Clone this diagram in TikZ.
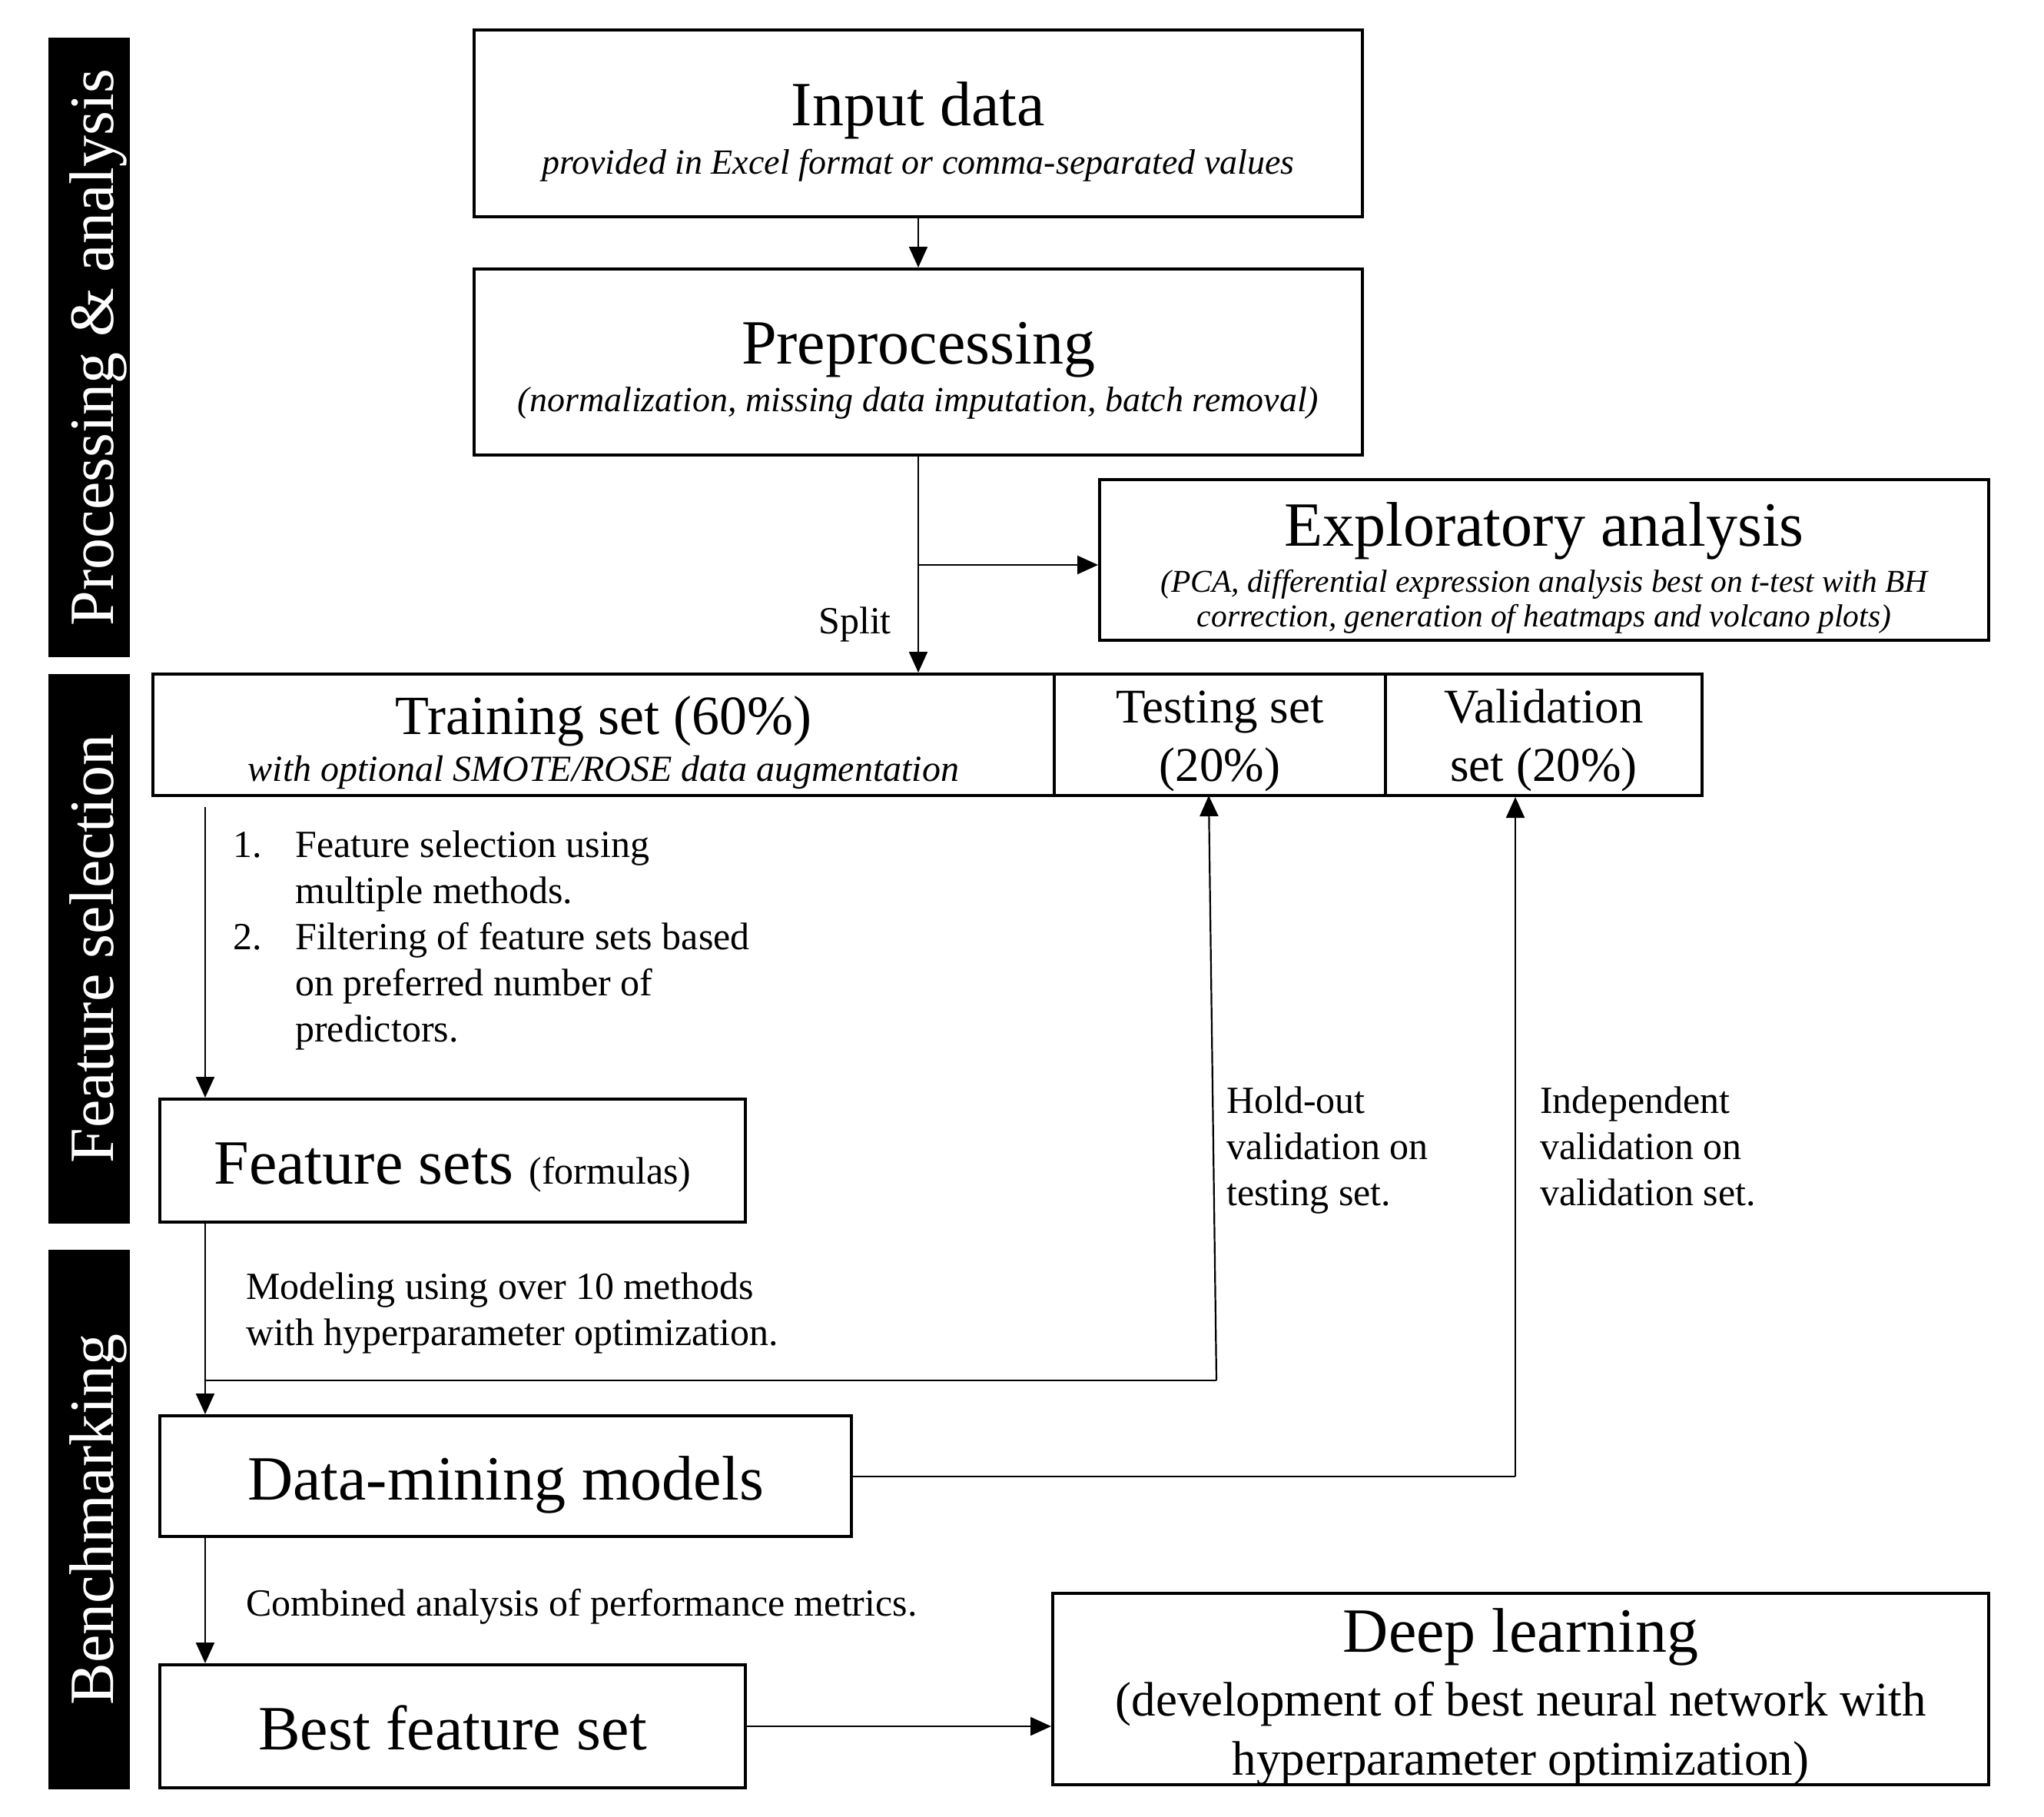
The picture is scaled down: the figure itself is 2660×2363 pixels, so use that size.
\documentclass[tikz,border=0pt]{standalone}
\usepackage{fontspec}
\setmainfont{Liberation Serif}
\usetikzlibrary{arrows.meta}
\newcommand\fbig{\fontsize{82}{98}\selectfont}
\newcommand\ftrain{\fontsize{72}{86}\selectfont}
\newcommand\fmid{\fontsize{63}{76}\selectfont}
\newcommand\fbody{\fontsize{50}{60}\selectfont}
\newcommand\fital{\fontsize{46}{55}\selectfont\itshape}
\newcommand\fitaltr{\fontsize{48}{58}\selectfont\itshape}
\newcommand\fitalsm{\fontsize{41.5}{50}\selectfont\itshape}
\begin{document}
\begin{tikzpicture}[x=1pt,y=-1pt,
  box/.style={draw, line width=4pt, rectangle, inner sep=0pt},
  bar/.style={fill=black, draw=none, rectangle, inner sep=0pt},
  bartext/.style={rotate=90, anchor=base, text=white, inner sep=0pt, font=\fbig},
  txt/.style={anchor=base, inner sep=0pt},
  ltxt/.style={anchor=base west, inner sep=0pt},
  conn/.style={line width=2.2pt, -{Triangle[length=27pt,width=24pt]}},
  plain/.style={line width=2.2pt}]
\useasboundingbox (0,0) rectangle (2660,2363);

% side bars
\node[bar, minimum width=106pt, minimum height=806pt] (bar1) at (116,452) {};
\node[bar, minimum width=106pt, minimum height=715pt] (bar2) at (116,1234.5) {};
\node[bar, minimum width=106pt, minimum height=702pt] (bar3) at (116,1977) {};
\node[bartext] (bar1t) at (147,452) {Processing \& analysis};
\node[bartext] (bar2t) at (147,1234.5) {Feature selection};
\node[bartext] (bar3t) at (147,1977) {Benchmarking};

% boxes
\node[box, minimum width=1156pt, minimum height=243pt] (input) at (1195,160.5) {};
\node[txt] (inputT) at (1195,164) {\fbig Input data};
\node[txt] (inputS) at (1195,226) {\fital provided in Excel format or comma-separated values};

\node[box, minimum width=1156pt, minimum height=242pt] (prep) at (1195,471) {};
\node[txt] (prepT) at (1195,473) {\fbig Preprocessing};
\node[txt] (prepS) at (1195,535) {\fital (normalization, missing data imputation, batch removal)};

\node[box, minimum width=1157pt, minimum height=209pt] (expl) at (2009.5,728.5) {};
\node[txt] (explT) at (2009.5,710) {\fbig Exploratory analysis};
\node[txt] (explS1) at (2009.5,770) {\fitalsm (PCA, differential expression analysis best on t-test with BH};
\node[txt] (explS2) at (2009.5,815) {\fitalsm correction, generation of heatmaps and volcano plots)};

\node[box, minimum width=1173pt, minimum height=158pt] (train) at (785.5,956) {};
\node[txt] (trainT) at (785.5,955) {\ftrain Training set (60\%)};
\node[txt] (trainS) at (785.5,1016) {\fitaltr with optional SMOTE/ROSE data augmentation};

\node[box, minimum width=431pt, minimum height=158pt] (test) at (1587.5,956) {};
\node[txt] (testT1) at (1587.5,940) {\fmid Testing set};
\node[txt] (testT2) at (1587.5,1016) {\fmid (20\%)};

\node[box, minimum width=412pt, minimum height=158pt] (valid) at (2009,956) {};
\node[txt] (validT1) at (2009,940) {\fmid Validation};
\node[txt] (validT2) at (2009,1016) {\fmid set (20\%)};

\node[box, minimum width=762pt, minimum height=160pt] (feat) at (589,1510) {};
\node[txt] (featT) at (589,1540) {\fbig Feature sets {\fbody (formulas)}};

\node[box, minimum width=900pt, minimum height=157pt] (dm) at (658,1920.5) {};
\node[txt] (dmT) at (658,1951) {\fbig Data-mining models};

\node[box, minimum width=762pt, minimum height=160pt] (best) at (589,2246) {};
\node[txt] (bestT) at (589,2276) {\fbig Best feature set};

\node[box, minimum width=1218pt, minimum height=249pt] (deep) at (1979,2197.5) {};
\node[txt] (deepT) at (1979,2149) {\fbig Deep learning};
\node[txt] (deepS1) at (1979,2232) {\fmid (development of best neural network with};
\node[txt] (deepS2) at (1979,2309) {\fmid hyperparameter optimization)};

% free texts
\node[anchor=base east, inner sep=0pt] (split) at (1160,824) {\fbody Split};
\node[ltxt] (l1n) at (303,1115) {\fbody 1.};
\node[ltxt] (l1a) at (384,1115) {\fbody Feature selection using};
\node[ltxt] (l1b) at (384,1175) {\fbody multiple methods.};
\node[ltxt] (l2n) at (303,1235) {\fbody 2.};
\node[ltxt] (l2a) at (384,1235) {\fbody Filtering of feature sets based};
\node[ltxt] (l2b) at (384,1295) {\fbody on preferred number of};
\node[ltxt] (l2c) at (384,1355) {\fbody predictors.};
\node[ltxt] (ho1) at (1596,1448) {\fbody Hold-out};
\node[ltxt] (ho2) at (1596,1508) {\fbody validation on};
\node[ltxt] (ho3) at (1596,1568) {\fbody testing set.};
\node[ltxt] (in1) at (2004,1448) {\fbody Independent};
\node[ltxt] (in2) at (2004,1508) {\fbody validation on};
\node[ltxt] (in3) at (2004,1568) {\fbody validation set.};
\node[ltxt] (mo1) at (320,1690) {\fbody Modeling using over 10 methods};
\node[ltxt] (mo2) at (320,1750) {\fbody with hyperparameter optimization.};
\node[ltxt] (co1) at (320,2102) {\fbody Combined analysis of performance metrics.};

% connectors
\draw[conn] (input.south) -- (prep.north);
\draw[conn] (prep.south) -- (prep.south |- train.north);
\coordinate (sp) at (1195,735);
\draw[conn] (sp) -- (sp -| expl.west);
\coordinate (fs0) at (267,1050);
\draw[conn] (fs0) -- (fs0 |- feat.north);
\coordinate (ms0) at (267,1592);
\draw[conn] (ms0) -- (ms0 |- dm.north);
\coordinate (hb) at (267,1796);
\coordinate (hc) at (1583,1796);
\coordinate (ht) at (1573,1035);
\draw[plain] (hb) -- (hc);
\draw[conn] (hc) -- (ht);
\coordinate (vc) at (1972,1921);
\draw[plain] (dm.east |- vc) -- (vc);
\draw[conn] (vc) -- (vc |- valid.south);
\coordinate (bs0) at (267,1999);
\draw[conn] (bs0) -- (bs0 |- best.north);
\draw[conn] (best.east) -- (best.east -| deep.west);
\end{tikzpicture}
\end{document}
